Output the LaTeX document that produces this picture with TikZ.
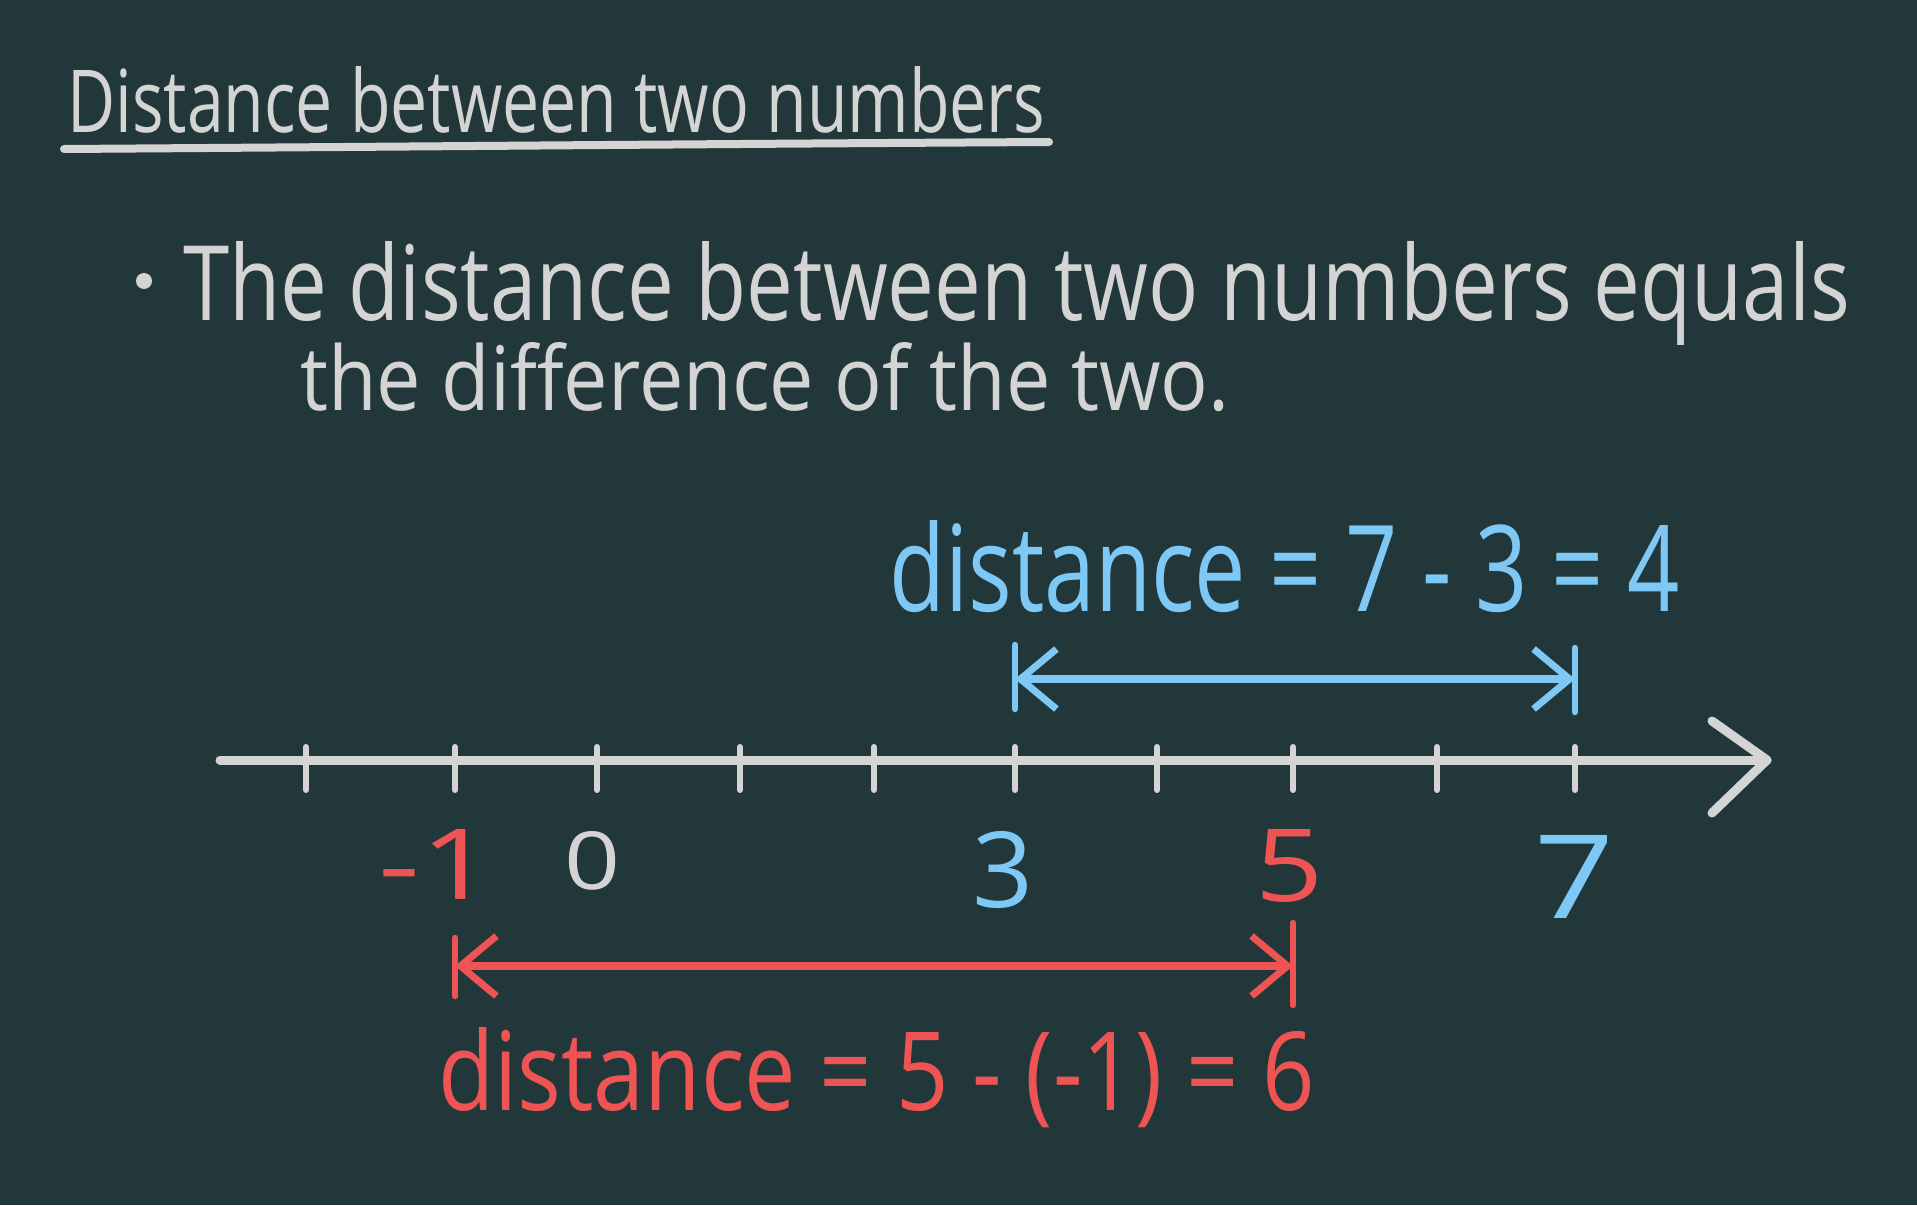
\documentclass[tikz,border=0pt]{standalone}
\usepackage{fontspec}
\setmainfont{Open Sans}
\usepackage{graphicx}
\usetikzlibrary{arrows.meta}
\definecolor{board}{RGB}{34,55,57}
\definecolor{chalk}{RGB}{212,212,212}
\definecolor{skyb}{RGB}{125,200,245}
\definecolor{redc}{RGB}{238,84,84}
\newcommand{\fitbox}[3]{\resizebox{#1pt}{#2pt}{#3}}
\begin{document}
\begin{tikzpicture}[x=1pt,y=-1pt,
  txt/.style={inner sep=0pt, anchor=base west},
  lbl/.style={inner sep=0pt, anchor=base},
  tickmark/.style={draw=chalk, line width=6pt, line cap=round},
  axisline/.style={draw=chalk, line width=9pt, line cap=round, line join=round},
  dimline/.style={line width=8pt, line cap=round, {Straight Barb[length=36pt,width=60pt,line width=7pt]}-{Straight Barb[length=36pt,width=60pt,line width=7pt]}},
  barmark/.style={line width=6.5pt, line cap=round}]
\useasboundingbox (0,0) rectangle (1917,1205);
\fill[board] (0,0) rectangle (1917,1205);

% title
\node[txt, text=chalk] (title) at (67,132) {\fitbox{978}{66}{Distance between two numbers}};
\draw[chalk, line width=8pt, line cap=round] (64,149) .. controls (500,146) and (700,144) .. (1049,142);

% bullet text
\fill[chalk] (144,281) circle (8);
\node[txt, text=chalk] (line1) at (183,320) {\fitbox{1666}{79}{The distance between two numbers equals}};
\node[txt, text=chalk] (line2) at (300,410) {\fitbox{929}{68}{the difference of the two.}};

% blue formula
\node[txt, text=skyb] (bluef) at (889,611) {\fitbox{790}{91}{distance = 7 - 3 = 4}};

% number line
\coordinate (nlstart) at (220,760);
\coordinate (nlend) at (1767,760);
\draw[axisline] (nlstart) -- (nlend);
\draw[axisline] (1712,721) -- (nlend) -- (1712,813);
\foreach \n/\x in {m2/306, m1/455, 0/597, 1/740, 2/874, 3/1015, 4/1157, 5/1293, 6/1437, 7/1575}{
  \coordinate (t\n) at (\x,760);
  \draw[tickmark] (\x,747) -- (\x,790);
}

% labels
\node[lbl, text=redc] (lm1) at (437,899) {\fitbox{116}{70}{-1}};
\node[lbl, text=chalk] (l0) at (593,889) {\fitbox{56}{58}{0}};
\node[lbl, text=skyb] (l3) at (1003,907) {\fitbox{61}{76}{3}};
\node[lbl, text=redc] (l5) at (1290,901) {\fitbox{68}{72}{5}};
\node[lbl, text=skyb] (l7) at (1575,918) {\fitbox{80}{83}{7}};

% blue distance arrow
\coordinate (b3) at (1015,679);
\coordinate (b7) at (1575,679);
\draw[skyb, barmark] (b3) ++(0,-34) -- ++(0,64);
\draw[skyb, barmark] (b7) ++(0,-31) -- ++(0,64);
\draw[skyb, dimline] (b3) -- (b7);

% red distance arrow
\coordinate (r1) at (455,966);
\coordinate (r5) at (1293,966);
\draw[redc, barmark] (r1) ++(0,-28) -- ++(0,58);
\draw[redc, barmark] (r5) ++(0,-43) -- ++(0,82);
\draw[redc, dimline] (r1) -- (r5);

% red formula
\node[txt, text=redc] (redf) at (438,1110) {\fitbox{876}{83}{distance = 5 - (-1) = 6}};
\end{tikzpicture}
\end{document}
